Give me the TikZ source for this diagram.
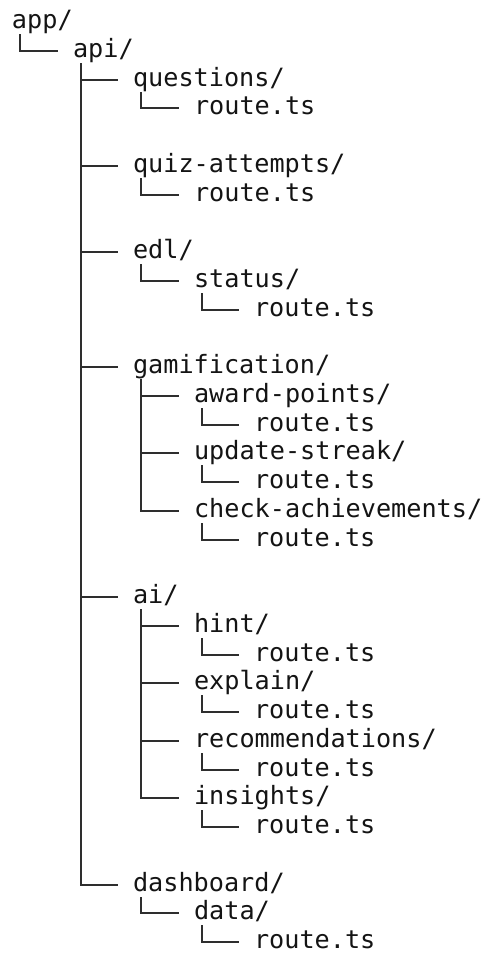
\documentclass[tikz,border=0pt]{standalone}
\usepackage{fontspec}
\setmonofont{DejaVu Sans Mono}

% character cell of the listing: width and line height, in pt
\def\cw{15.15}
\def\lh{28.75}

\tikzset{
  entry/.style={anchor=base west, inner sep=0pt, outer sep=0pt, text=black!92,
                font=\ttfamily\fontsize{25.2}{30}\selectfont},
  tree/.style={draw=black!82, line width=2pt}
}

% \entry{name}{column}{row}{text}; positions snapped to whole points so the
% tree lines fall on the pixel grid
\newcommand\entry[4]{%
  \node[entry] (#1) at ({round(12+#2*\cw)},{-round(22+(#3-1)*\lh)-6.5}) {#4};}
% \branch{parent}{child}: stem below the parent's first character, elbow to the child
\newcommand\branch[2]{%
  \draw[tree] ([xshift=8pt,yshift=-5.5pt]#1.base west) |- ([xshift=-\cw pt,yshift=6.5pt]#2.base west);}

\begin{document}
\begin{tikzpicture}[x=1pt,y=1pt]
\useasboundingbox (0,0) rectangle (486,-953);

\entry{app}{0}{1}{app/}
\entry{api}{4}{2}{api/}
\entry{questions}{8}{3}{questions/}
\entry{questionsr}{12}{4}{route.ts}
\entry{quiz}{8}{6}{quiz-attempts/}
\entry{quizr}{12}{7}{route.ts}
\entry{edl}{8}{9}{edl/}
\entry{status}{12}{10}{status/}
\entry{statusr}{16}{11}{route.ts}
\entry{gam}{8}{13}{gamification/}
\entry{award}{12}{14}{award-points/}
\entry{awardr}{16}{15}{route.ts}
\entry{streak}{12}{16}{update-streak/}
\entry{streakr}{16}{17}{route.ts}
\entry{check}{12}{18}{check-achievements/}
\entry{checkr}{16}{19}{route.ts}
\entry{ai}{8}{21}{ai/}
\entry{hint}{12}{22}{hint/}
\entry{hintr}{16}{23}{route.ts}
\entry{explain}{12}{24}{explain/}
\entry{explainr}{16}{25}{route.ts}
\entry{recs}{12}{26}{recommendations/}
\entry{recsr}{16}{27}{route.ts}
\entry{insights}{12}{28}{insights/}
\entry{insightsr}{16}{29}{route.ts}
\entry{dash}{8}{31}{dashboard/}
\entry{data}{12}{32}{data/}
\entry{datar}{16}{33}{route.ts}

\branch{app}{api}
\branch{api}{questions}
\branch{questions}{questionsr}
\branch{api}{quiz}
\branch{quiz}{quizr}
\branch{api}{edl}
\branch{edl}{status}
\branch{status}{statusr}
\branch{api}{gam}
\branch{gam}{award}
\branch{award}{awardr}
\branch{gam}{streak}
\branch{streak}{streakr}
\branch{gam}{check}
\branch{check}{checkr}
\branch{api}{ai}
\branch{ai}{hint}
\branch{hint}{hintr}
\branch{ai}{explain}
\branch{explain}{explainr}
\branch{ai}{recs}
\branch{recs}{recsr}
\branch{ai}{insights}
\branch{insights}{insightsr}
\branch{api}{dash}
\branch{dash}{data}
\branch{data}{datar}
\end{tikzpicture}
\end{document}
